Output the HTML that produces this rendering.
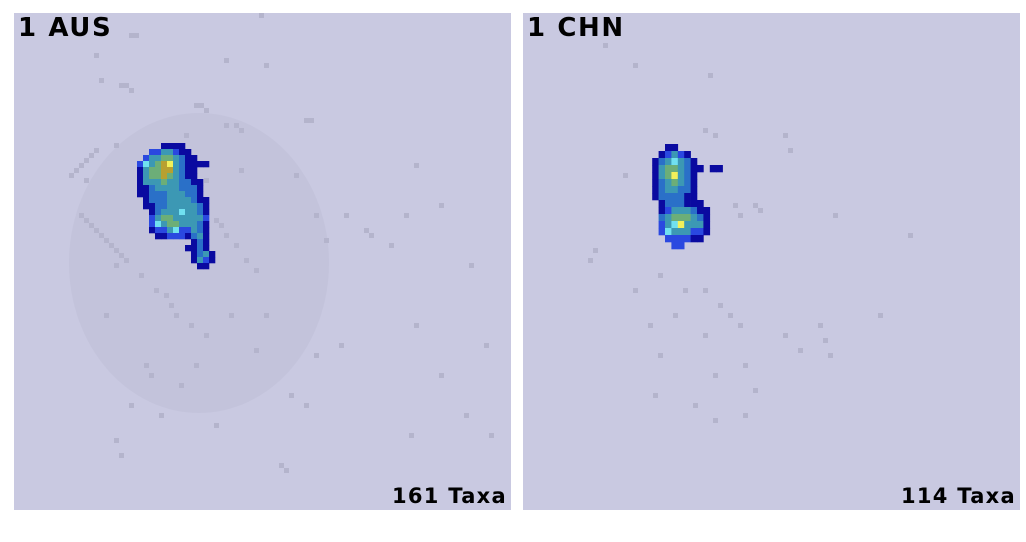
<!DOCTYPE html>
<html><head><meta charset="utf-8"><style>
body{margin:0;background:#fff;width:1026px;height:542px;overflow:hidden;font-family:"DejaVu Sans","Liberation Sans",sans-serif}
.panel{position:absolute;top:13px;width:497px;height:497px;background:#c9c9e1;overflow:hidden}
.title{position:absolute;left:4px;top:0px;font-weight:bold;font-size:26px;letter-spacing:1.6px;color:#000}
.taxa{position:absolute;right:4px;bottom:2px;font-weight:bold;font-size:21px;letter-spacing:1.3px;color:#000}
svg{position:absolute;left:0;top:0}
</style></head><body>
<div class="panel" style="left:14px">
<svg id="s1" width="497" height="497"></svg>
<div class="title">1 AUS</div>
<div class="taxa">161 Taxa</div>
</div>
<div class="panel" style="left:523px">
<svg id="s2" width="497" height="497"></svg>
<div class="title">1 CHN</div>
<div class="taxa">114 Taxa</div>
</div>
<script>
const cell=5;
const colors={d:"#0a0aa0",b:"#2a48e0",t:"#3c98b4",g:"#6cae78",o:"#b8a030",y:"#f2f05a",c:"#70e0f0",m:"#2a70c8"};
const ausBlobGeom={x:105,y:130,w:6,h:6};
const ausBlob=[
"       dddd     ",
"     bbttbdd    ",
"    bttggtmdd   ",
"   bctgoytmdddd ",
"   dtggootmdd   ",
"   dtggogtmdd   ",
"   dtttgttmmdd  ",
"   ddmttttmmmd  ",
"   ddmmmtttmmd  ",
"    dmmmttttmdd ",
"    ddmmtttttmd ",
"     dmtttcttmd ",
"     btggtttttb ",
"     bctggtttmd ",
"     dbbtcbbtmd ",
"      ddbbbdmtd ",
"            dmd ",
"           ddmd ",
"            dmtd",
"            dtbd",
"             dd "
];
const chnBlobGeom={x:110,y:131,w:6.4,h:7};
const chnBlob=[
"     dd     ",
"    dbtbd   ",
"   dmtctmd  ",
"   dtggtmdd dd",
"   dtgytmd  ",
"   dmtgtmd  ",
"   dmttmmd  ",
"   dmmmmdd  ",
"    dmmmddd ",
"    dbtttmdd",
"    mtgggtmd",
"    btcytttd",
"    bctttbbd",
"     bbbbdd ",
"      bb    "
];
const ausGrey=[[23,4],[24,4],[49,0],[16,8],[42,9],[17,13],[21,14],[22,14],[23,15],[50,10],[36,18],[37,18],[38,19],[42,22],[44,22],[45,23],[58,21],[59,21],[34,24],[20,26],[16,27],[15,28],[14,29],[13,30],[12,31],[11,32],[14,33],[38,33],[45,31],[56,32],[66,40],[70,43],[71,44],[13,40],[14,41],[15,42],[16,43],[17,44],[18,45],[19,46],[20,47],[21,48],[22,49],[40,41],[41,42],[42,44],[44,46],[46,49],[48,51],[30,56],[31,58],[32,60],[35,62],[38,64],[26,70],[27,72],[23,78],[29,80],[40,82],[55,76],[58,78],[60,68],[65,66],[75,46],[80,62],[85,72],[90,80],[95,84],[79,84],[20,85],[21,88],[53,90],[54,91],[20,50],[25,52],[28,55],[18,60],[43,60],[50,60],[48,67],[36,70],[33,74],[60,40],[62,45],[80,30],[85,38],[91,50],[94,66],[78,40]];
const chnGrey=[[16,6],[22,10],[37,12],[36,23],[38,24],[52,24],[53,27],[20,32],[42,38],[43,40],[46,38],[47,39],[62,40],[77,44],[14,47],[13,49],[27,52],[32,55],[36,55],[39,58],[41,60],[43,62],[22,55],[30,60],[25,62],[36,64],[27,68],[44,70],[52,64],[55,67],[38,72],[46,75],[34,78],[59,62],[60,65],[61,68],[71,60],[38,81],[26,76],[44,80]];
function draw(id,geom,blob,grey,cloud){
  const s=document.getElementById(id),ns="http://www.w3.org/2000/svg";
  if(cloud){
    const e=document.createElementNS(ns,"ellipse");
    
    
    e.setAttribute("cx",cloud[0]*cell);e.setAttribute("cy",cloud[1]*cell);
    e.setAttribute("rx",cloud[2]*cell);e.setAttribute("ry",cloud[3]*cell);
    e.setAttribute("fill","#b8b8d0");e.setAttribute("opacity","0.35");
    s.appendChild(e);
  }
  grey.forEach(g=>{
    const r=document.createElementNS(ns,"rect");
    
    
    r.setAttribute("x",g[0]*cell);r.setAttribute("y",g[1]*cell);
    r.setAttribute("width",cell);r.setAttribute("height",cell);r.setAttribute("fill","#b4b4cc");
    s.appendChild(r);
  });
  blob.forEach((row,j)=>{[...row].forEach((ch,i)=>{
    if(!colors[ch])return;
    const r=document.createElementNS(ns,"rect");
    
    
    r.setAttribute("x",geom.x+i*geom.w);r.setAttribute("y",geom.y+j*geom.h);
    r.setAttribute("width",geom.w+0.3);r.setAttribute("height",geom.h+0.3);r.setAttribute("fill",colors[ch]);
    s.appendChild(r);
  });});
}
draw("s1",ausBlobGeom,ausBlob,ausGrey,[37,50,26,30]);
draw("s2",chnBlobGeom,chnBlob,chnGrey,null);
</script>
</body></html>
